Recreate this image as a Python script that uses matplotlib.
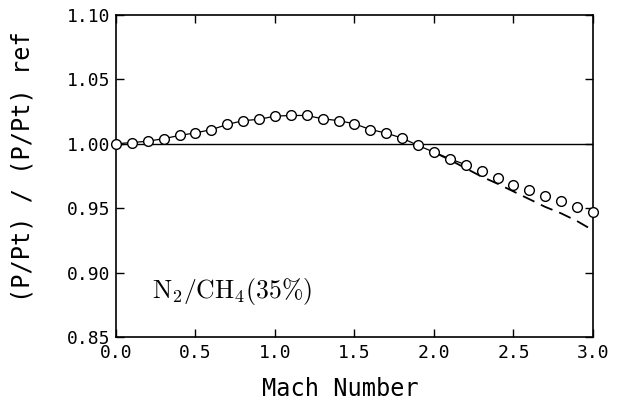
import matplotlib
matplotlib.use("Agg")
import matplotlib.pyplot as plt
import numpy as np

plt.rcParams['mathtext.fontset'] = 'cm'

# Mach number grid of the symbols
mach = np.round(np.arange(0, 31) * 0.1, 1)
# (P/Pt)/(P/Pt)ref
ratio = [1.000, 1.001, 1.002, 1.004, 1.0065, 1.0085, 1.011, 1.015, 1.018, 1.019,
         1.0215, 1.022, 1.022, 1.0194, 1.018, 1.0155, 1.0111, 1.0083, 1.0044, 0.9987,
         0.9935, 0.9884, 0.9837, 0.9788, 0.9733, 0.9684, 0.9638, 0.9594, 0.9555, 0.951,
         0.947]

# dashed curve where it leaves the symbols
mach_dash = [2.0, 2.1, 2.2, 2.3, 2.4, 2.5, 2.6, 2.7, 2.8, 2.9, 2.97]
ratio_dash = [0.9935, 0.9875, 0.981, 0.9745, 0.969, 0.963, 0.957, 0.951, 0.946, 0.940, 0.935]

# reference line
mach_ref = [0.0, 3.0]
ratio_ref = [1.0, 1.0]

fig = plt.figure(figsize=(6.23, 4.11), dpi=100)
ax = fig.add_axes([0.1862, 0.18, 0.7656, 0.7835])

ax.plot(mach_ref, ratio_ref, color='black', lw=1.0, zorder=2)
ax.plot(mach[:23], ratio[:23], color='black', lw=0.9, zorder=2)
ax.plot(mach_dash, ratio_dash, color='black', lw=1.3, dashes=(7, 4), zorder=2)
ax.plot(mach, ratio, linestyle='none', marker='o', markersize=7,
        markerfacecolor='white', markeredgecolor='black', markeredgewidth=1.0,
        zorder=3, clip_on=False)

ax.set_xlim(0, 3.0)
ax.set_ylim(0.85, 1.10)
ax.set_xticks(np.arange(0, 3.01, 0.5))
ax.set_yticks(np.arange(0.85, 1.101, 0.05))
ax.xaxis.set_major_formatter(matplotlib.ticker.FormatStrFormatter('%.1f'))
ax.yaxis.set_major_formatter(matplotlib.ticker.FormatStrFormatter('%.2f'))

for lab in ax.get_xticklabels() + ax.get_yticklabels():
    lab.set_fontfamily('DejaVu Sans Mono')
    lab.set_fontsize(13)

ax.tick_params(direction='in', length=6, width=1.0, top=True, right=True,
               colors='black')
ax.tick_params(axis='x', pad=5)
ax.tick_params(axis='y', pad=4)
for s in ax.spines.values():
    s.set_linewidth(1.2)

ax.set_xlabel('Mach Number', fontfamily='DejaVu Sans Mono', fontsize=17)
ax.xaxis.set_label_coords(0.47, -0.125)
ax.set_ylabel('(P/Pt) / (P/Pt) ref', fontfamily='DejaVu Sans Mono', fontsize=17)
ax.yaxis.set_label_coords(-0.17, 0.528)

ax.text(0.075, 0.12, r'$\mathrm{N_2/CH_4(35\%)}$', transform=ax.transAxes,
        fontsize=18.5, color='black')

fig.savefig('out.png', dpi=100)
